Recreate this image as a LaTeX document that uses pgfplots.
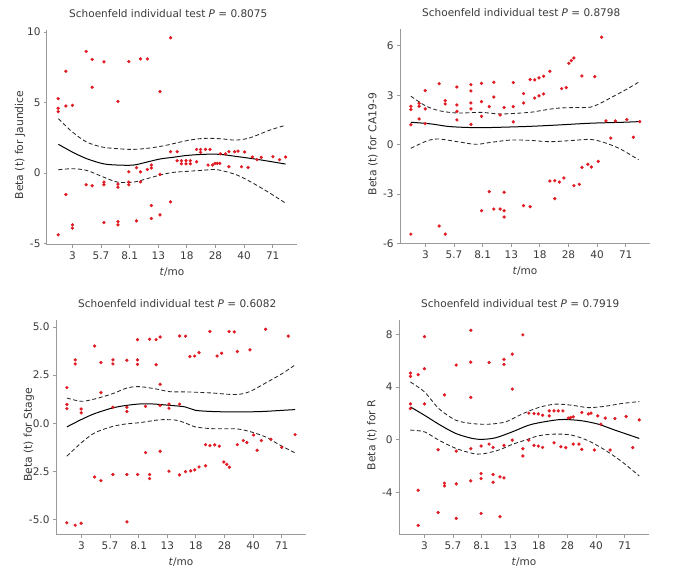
\documentclass[border=0pt]{standalone}
\usepackage{fontspec}
\setmainfont{DejaVu Sans}
\usepackage{pgfplots}
\pgfplotsset{compat=1.18}
\definecolor{ptred}{HTML}{E01A22}
\definecolor{axgray}{HTML}{9A9A9A}
\definecolor{txt}{HTML}{3A3A3A}

\pgfplotsset{
  panel/.style={
    scale only axis, width=250pt, height=215pt,
    xmin=0.11, xmax=8.85,
    axis lines=left, axis line style={-, draw=axgray, line width=1pt},
    tick align=outside, major tick length=3pt,
    tick style={draw=axgray, line width=0.8pt},
    xtick={1,...,8}, xticklabels={3,5.7,8.1,13,18,28,40,71},
    /pgf/number format/assume math mode=true,
    ticklabel style={font=\fontsize{10.5}{12}\selectfont, text=txt},
    every axis title shift=0pt,
    title style={font=\fontsize{10.5}{12}\selectfont, text=txt, at={(0.485,1.0744)}, anchor=center},
    xlabel={\textit{t}/mo},
    xlabel style={at={(rel axis cs:0.5,-0.126)}, anchor=center, font=\fontsize{10.5}{12}\selectfont, text=txt},
    ylabel style={at={(rel axis cs:-0.108,0.465)}, anchor=center, font=\fontsize{10.8}{12}\selectfont, text=txt},
    clip=false,
  },
  pts/.style={only marks, mark=*, mark size=1.45pt, color=ptred},
  fit/.style={smooth, no marks, black, line width=1pt},
  band/.style={smooth, no marks, black!85, line width=0.85pt, dash pattern=on 4pt off 2.5pt},
}

\begin{document}
\begin{tikzpicture}
\path (0,0) rectangle (675pt,578pt);

% ---- Jaundice ----
\begin{axis}[panel, at={(47pt,333pt)}, anchor=south west,
  ymin=-5.1, ymax=10.15, ytick={-5,0,5,10}, yticklabels={-5,0,5,10},
  title={Schoenfeld individual test \textit{P} = 0.8075},
  ylabel={Beta (t) for Jaundice}]
\addplot[band] table {
0.51 3.86
1.00 2.91
1.50 2.20
2.03 1.85
2.58 1.73
3.13 1.68
3.71 1.78
4.27 1.97
4.99 2.30
5.57 2.46
6.15 2.44
6.70 2.34
7.20 2.50
7.90 3.05
8.45 3.39
};
\addplot[band] table {
0.51 0.24
1.00 0.31
1.50 0.19
2.08 -0.28
2.58 -0.64
3.13 -0.64
3.60 -0.40
4.06 -0.14
4.52 0.05
4.99 0.12
5.57 0.20
6.05 0.24
6.73 -0.12
7.31 -0.71
7.90 -1.42
8.45 -2.13
};
\addplot[fit] table {
0.51 2.04
1.00 1.49
1.50 1.02
2.08 0.66
2.58 0.57
3.13 0.57
3.60 0.78
4.06 1.00
4.52 1.12
4.99 1.25
5.57 1.33
6.15 1.33
6.73 1.18
7.31 1.02
7.90 0.83
8.45 0.64
};
\addplot[pts] table {
0.50 5.28
0.50 4.60
0.50 4.36
0.50 -4.38
0.77 7.23
0.77 4.76
0.77 -1.52
1.00 4.81
1.00 -3.67
1.00 -3.91
1.48 8.63
1.48 -0.83
1.69 8.06
1.69 6.09
1.69 -0.90
2.10 7.89
2.10 -0.64
2.10 -0.83
2.10 -3.51
2.59 5.09
2.59 -0.78
2.59 -1.00
2.59 -3.44
2.59 -3.67
2.97 7.91
2.97 0.09
2.97 -0.64
2.97 -0.83
3.24 0.38
3.24 -3.39
3.38 8.10
3.38 0.09
3.38 -0.62
3.62 8.10
3.62 0.26
3.76 0.57
3.76 0.36
3.76 -2.30
3.76 -3.22
4.06 5.78
4.06 -0.09
4.06 -2.96
4.43 9.60
4.43 1.52
4.43 -2.04
4.66 1.52
4.66 0.88
4.81 0.88
4.81 0.66
4.97 0.88
4.97 0.66
5.12 0.88
5.12 0.66
5.34 0.80
5.34 1.68
5.48 1.68
5.48 1.47
5.65 1.68
5.81 1.68
5.74 0.57
5.90 0.57
5.98 0.69
6.06 0.69
6.15 0.69
6.17 1.37
6.35 1.37
6.47 1.52
6.67 1.52
6.79 1.56
7.02 1.50
6.47 0.45
6.91 0.45
7.14 0.40
7.29 1.14
7.45 0.95
7.60 1.11
8.01 1.16
8.24 0.95
8.45 1.14
};
\end{axis}

% ---- CA19-9 ----
\begin{axis}[panel, at={(400pt,334pt)}, anchor=south west,
  ymin=-6.03, ymax=7.02, ytick={-6,-3,0,3,6}, yticklabels={-6,-3,0,3,6},
  title={Schoenfeld individual test \textit{P} = 0.8798},
  ylabel={Beta (t) for CA19-9}]
\addplot[band] table {
0.49 2.94
0.99 2.37
1.48 2.06
2.12 1.92
2.94 1.96
3.64 1.86
4.64 1.96
5.01 2.06
5.60 2.21
6.18 2.25
6.76 2.27
7.11 2.51
7.58 2.94
8.05 3.38
8.49 3.83
};
\addplot[band] table {
0.49 -0.22
1.07 0.24
1.48 0.34
2.12 0.18
2.76 0.02
3.29 0.14
3.99 0.28
4.64 0.26
5.36 0.18
6.18 0.26
6.76 0.32
7.23 0.14
7.81 -0.26
8.45 -0.92
};
\addplot[fit] table {
0.49 1.36
1.19 1.26
1.77 1.11
2.35 1.05
2.94 1.03
3.52 1.05
4.64 1.11
5.60 1.19
6.76 1.30
7.93 1.36
8.49 1.40
};
\addplot[pts] table {
0.49 2.33
0.49 2.13
0.49 1.21
0.49 -5.43
0.78 2.51
0.78 2.33
0.78 1.56
0.99 3.28
0.99 2.17
0.99 1.28
1.48 3.70
1.48 -4.94
1.69 2.67
1.69 2.47
1.69 -5.43
2.10 3.50
2.10 2.41
2.10 2.02
2.10 1.50
2.59 3.64
2.59 3.26
2.59 2.53
2.59 2.17
2.59 1.23
2.96 3.72
2.96 2.61
2.96 1.72
2.96 -4.01
3.23 2.31
3.23 -2.85
3.39 3.79
3.39 2.89
3.39 -3.91
3.61 1.80
3.61 -3.91
3.75 2.25
3.75 -2.89
3.75 -4.01
3.75 -4.39
4.07 3.77
4.07 2.31
4.07 1.38
4.43 3.10
4.43 2.53
4.43 -3.70
4.66 3.95
4.66 -3.77
4.82 3.93
4.82 2.83
4.97 4.05
4.97 2.96
5.13 4.15
5.13 3.08
5.35 4.45
5.35 -2.21
5.52 -2.19
5.52 -3.28
5.68 -2.27
5.76 3.40
5.84 -2.02
5.92 3.46
6.01 4.94
6.10 5.10
6.19 5.26
6.19 -2.49
6.38 -2.41
6.47 4.17
6.47 -1.38
6.68 -1.19
6.80 -1.36
6.92 4.13
7.04 -1.01
7.16 6.52
7.31 1.44
7.48 0.40
7.64 1.44
8.04 1.52
8.27 0.45
8.49 1.40
};
\end{axis}

% ---- Stage ----
\begin{axis}[panel, at={(56pt,43pt)}, anchor=south west,
  ymin=-5.8, ymax=5.36, ytick={-5,-2.5,0,2.5,5}, yticklabels={-5.0,-2.5,0.0,2.5,5.0},
  title={Schoenfeld individual test \textit{P} = 0.6082},
  ylabel={Beta (t) for Stage}]
\addplot[band] table {
0.49 1.31
0.99 1.14
1.46 1.26
2.10 1.54
2.59 1.83
3.03 1.90
3.61 1.78
4.08 1.64
4.62 1.63
4.99 1.61
5.57 1.57
6.39 1.49
6.86 1.63
7.44 2.09
8.02 2.58
8.47 3.03
};
\addplot[band] table {
0.49 -1.71
0.99 -1.02
1.46 -0.50
2.10 -0.16
2.59 -0.03
3.03 0.03
3.61 0.16
3.85 0.19
4.31 0.16
4.62 0.02
4.99 -0.19
5.57 -0.28
6.39 -0.29
6.86 -0.42
7.44 -0.71
7.91 -1.11
8.47 -1.54
};
\addplot[fit] table {
0.49 -0.19
0.99 0.19
1.46 0.50
2.10 0.80
2.59 0.93
3.03 1.00
3.50 1.00
4.08 0.93
4.62 0.85
4.99 0.67
5.57 0.61
6.16 0.59
6.74 0.59
7.32 0.61
7.91 0.66
8.47 0.71
};
\addplot[pts] table {
0.49 1.85
0.49 0.97
0.49 0.76
0.49 -5.17
0.78 3.29
0.78 3.08
0.78 -5.29
0.99 0.74
0.99 0.54
0.99 -5.19
1.46 4.01
1.46 -2.79
1.68 3.15
1.68 1.59
1.68 -2.98
2.10 3.29
2.10 3.08
2.10 0.83
2.10 -2.66
2.59 3.27
2.59 0.83
2.59 0.61
2.59 -2.66
2.59 -5.12
2.96 4.34
2.96 3.29
2.96 3.06
2.96 -2.66
3.24 0.88
3.24 -1.52
3.38 4.36
3.38 -2.66
3.38 -2.87
3.61 4.34
3.61 3.04
3.75 4.48
3.75 2.02
3.75 0.92
3.75 -1.45
4.06 0.99
4.06 0.78
4.06 -2.49
4.43 4.53
4.43 0.99
4.43 -2.68
4.64 4.52
4.64 -2.51
4.79 3.46
4.82 -2.47
4.96 3.49
4.96 -2.42
5.11 3.67
5.11 -2.27
5.34 -2.21
5.34 -1.11
5.49 4.76
5.49 -1.16
5.66 -1.12
5.74 3.49
5.82 -1.19
5.90 3.63
5.98 -2.01
6.08 -2.13
6.16 4.76
6.34 4.74
6.17 -2.28
6.45 3.72
6.45 -1.11
6.66 -0.90
6.78 -1.00
6.89 3.81
7.02 -0.61
7.14 -1.40
7.29 -0.90
7.44 4.88
7.62 -0.83
8.00 -1.25
8.23 4.52
8.47 -0.59
};
\end{axis}

% ---- R ----
\begin{axis}[panel, at={(399pt,43pt)}, anchor=south west,
  ymin=-7.23, ymax=9.09, ytick={-4,0,4,8}, yticklabels={-4,0,4,8},
  title={Schoenfeld individual test \textit{P} = 0.7919},
  ylabel={Beta (t) for R}]
\addplot[band] table {
0.51 4.38
1.00 3.63
1.50 2.37
2.09 1.49
2.67 1.23
3.25 1.18
3.84 1.36
4.40 1.94
4.98 2.44
5.56 2.70
6.15 2.62
6.73 2.44
7.31 2.54
7.90 2.75
8.51 2.90
};
\addplot[band] table {
0.51 0.73
1.00 0.60
1.50 -0.03
2.09 -0.65
2.67 -1.03
3.02 -1.08
3.60 -0.78
4.07 -0.35
4.61 0.03
4.98 0.30
5.56 0.43
6.15 0.35
6.73 -0.08
7.31 -0.78
7.90 -1.66
8.51 -2.75
};
\addplot[fit] table {
0.51 2.49
1.00 1.86
1.50 1.18
2.09 0.48
2.67 0.10
3.02 0.03
3.49 0.15
4.07 0.60
4.61 1.08
4.98 1.28
5.56 1.49
5.91 1.54
6.50 1.44
7.08 1.18
7.66 0.73
8.51 0.10
};
\addplot[pts] table {
0.51 5.06
0.51 4.81
0.51 2.72
0.51 2.37
0.78 4.94
0.78 -3.83
0.78 -6.50
1.00 7.83
1.00 5.39
1.00 2.72
1.48 -0.76
1.48 -5.52
1.70 3.40
1.70 -3.30
1.70 -3.50
2.11 5.67
2.11 -0.86
2.11 -3.35
2.11 -5.97
2.62 8.31
2.62 5.89
2.62 3.22
2.62 -0.68
2.62 -3.12
2.98 -0.48
2.98 -2.57
2.98 -2.95
2.98 -5.59
3.26 5.87
3.26 -0.33
3.40 -0.58
3.40 -2.64
3.40 -3.22
3.64 -2.82
3.64 -5.84
3.78 6.10
3.78 5.72
3.78 -0.43
3.78 -2.90
4.07 6.50
4.07 3.85
4.07 -0.03
4.44 7.96
4.44 -0.68
4.44 -1.23
4.65 2.02
4.65 -0.03
4.83 1.99
4.98 1.96
5.13 1.86
4.83 -0.43
4.98 -0.48
5.13 -0.58
5.36 2.19
5.36 1.81
5.53 2.19
5.68 2.19
5.84 2.19
5.53 -0.23
5.77 -0.53
5.94 -0.60
6.03 1.64
6.11 1.69
6.20 1.74
6.20 -0.33
6.40 -0.33
6.50 2.07
6.50 -0.73
6.73 1.96
6.82 2.02
6.94 -0.78
7.06 1.81
7.17 1.18
7.32 1.64
7.49 -0.78
7.66 1.61
8.05 1.76
8.28 -0.60
8.51 1.51
};
\end{axis}
\end{tikzpicture}
\end{document}
